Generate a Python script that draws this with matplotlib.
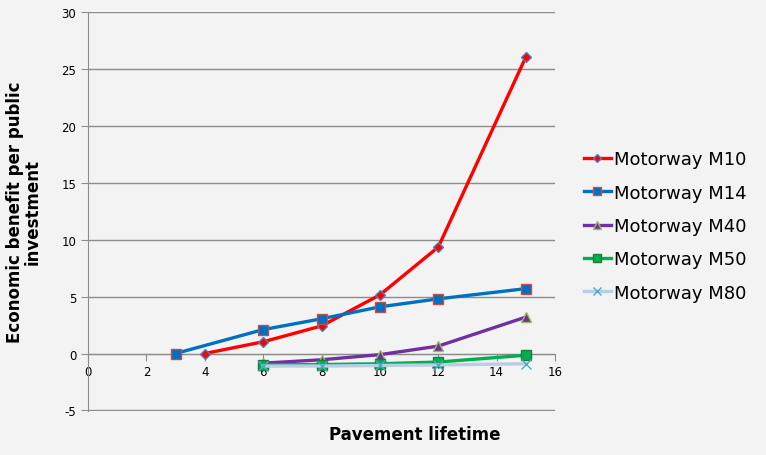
import numpy as np
import matplotlib.pyplot as plt

plt.rcParams["axes.unicode_minus"] = False

# Dados
anos_m10 = [4, 6, 8, 10, 12, 15]
m10 = [0.0, 1.03, 2.42, 5.15, 9.35, 26.05]

anos_m14 = [3, 6, 8, 10, 12, 15]
m14 = [0.0, 2.1, 3.05, 4.1, 4.8, 5.7]

anos_outros = [6, 8, 10, 12, 15]
m40 = [-0.85, -0.55, -0.1, 0.65, 3.2]
m50 = [-1.0, -0.97, -0.9, -0.75, -0.15]
m80 = [-1.1, -1.1, -1.05, -1.0, -0.9]

series = [
    ("Motorway M10", anos_m10, m10, "#ff0000", "D", "#ff0000", "#4f81bd", 5),
    ("Motorway M14", anos_m14, m14, "#0070c0", "s", "#0070c0", "#c0504d", 7),
    ("Motorway M40", anos_outros, m40, "#7030a0", "^", "#7030a0", "#9bbb59", 7),
    ("Motorway M50", anos_outros, m50, "#00b050", "s", "#00b050", "#1e7b3c", 7),
    ("Motorway M80", anos_outros, m80, "#b9cde5", "x", "#4bacc6", "#4bacc6", 7),
]

yticks = [-5, 0, 5, 10, 15, 20, 25, 30]
xticks = [0, 2, 4, 6, 8, 10, 12, 14, 16]

fig = plt.figure(figsize=(7.66, 4.56), dpi=100)
fig.patch.set_facecolor("#f3f3f3")
ax = fig.add_axes([0.1149, 0.0965, 0.6097, 0.875])
ax.set_facecolor("none")

for nome, x, y, cor, marcador, face, borda, tam in series:
    ax.plot(x, y, color=cor, linewidth=2.4, marker=marcador, markersize=tam,
            markerfacecolor=face, markeredgecolor=borda, markeredgewidth=1.0,
            label=nome, zorder=3)

ax.set_xlim(0, 16)
ax.set_ylim(-5.05, 30)
ax.set_xticks(xticks)
ax.set_yticks(yticks)
ax.yaxis.grid(True, color="#8c8c8c", linewidth=1.0)
ax.set_axisbelow(True)

ax.spines["top"].set_visible(False)
ax.spines["right"].set_visible(False)
ax.spines["bottom"].set_position(("data", 0))
ax.spines["bottom"].set_color("#8c8c8c")
ax.spines["left"].set_color("#8c8c8c")
ax.tick_params(axis="both", colors="#8c8c8c", labelcolor="black", labelsize=8.5, length=5)

ax.set_ylabel("Economic benefit per public\ninvestment", fontsize=12, fontweight="bold",
              linespacing=1.0, labelpad=14)
fig.text(0.542, 0.035, "Pavement lifetime", fontsize=12, fontweight="bold", ha="center")

fig.legend(loc="center left", bbox_to_anchor=(0.741, 0.502), frameon=False,
           fontsize=13, handlelength=1.5, handletextpad=0.15, labelspacing=0.85,
           markerscale=0.85)

plt.savefig("out.png", dpi=100, facecolor=fig.get_facecolor())
